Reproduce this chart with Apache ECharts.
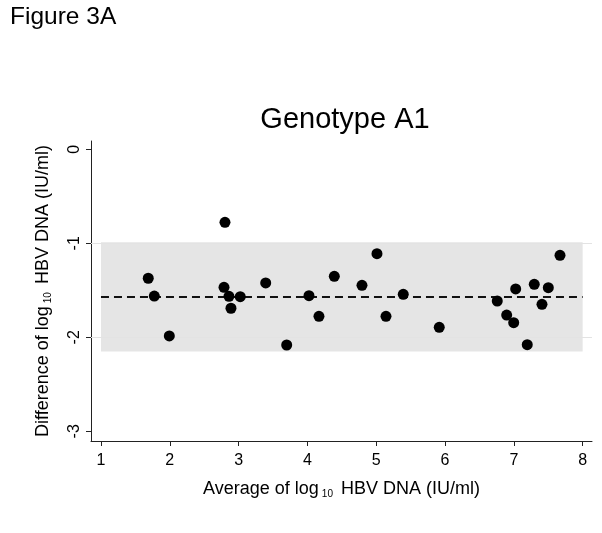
<!DOCTYPE html>
<html>
<head>
<meta charset="utf-8">
<script src="https://cdn.jsdelivr.net/npm/echarts@6/dist/echarts.min.js"></script>
<style>html,body{margin:0;padding:0;background:#fff}#c{width:602px;height:533px}</style>
</head>
<body>
<div id="c"></div>
<script>
// ---- data ----
const avgLog = [1.687,1.775,1.993,2.802,2.788,2.860,2.889,3.024,3.394,3.699,4.023,4.168,4.391,4.793,5.011,5.142,5.393,5.916,6.759,6.896,6.998,7.027,7.195,7.297,7.409,7.501,7.671];
const diffLog = [-1.372,-1.561,-1.986,-0.777,-1.468,-1.564,-1.691,-1.568,-1.422,-2.082,-1.557,-1.777,-1.351,-1.447,-1.111,-1.777,-1.543,-1.894,-1.614,-1.763,-1.845,-1.486,-2.079,-1.436,-1.649,-1.472,-1.128];
const meanDiff = -1.57;
const upperLoA = -0.99;
const lowerLoA = -2.15;
const bandX = [1, 8];
const xTicks = [1,2,3,4,5,6,7,8];
const yTicks = [0,-1,-2,-3];
const yGrid = [-1,-2];

const FONT = 'Liberation Sans, Arial, sans-serif';
const chart = echarts.init(document.getElementById('c'));
const pts = avgLog.map((x,i)=>[x, diffLog[i]]);

const nameRich = {
  a:{fontFamily:FONT, fontSize:18, color:'#000', verticalAlign:'middle'},
  s:{fontFamily:FONT, fontSize:10, color:'#000', verticalAlign:'middle', padding:[10,3,0,3]}
};

chart.setOption({
  backgroundColor:'#fff',
  animation:false,
  title:{
    text:'Genotype A1', left:340, top:100, textAlign:'center',
    textStyle:{fontFamily:FONT, fontSize:29, fontWeight:'normal', color:'#000'}
  },
  graphic:[{
    type:'text', left:10, top:5,
    style:{text:'Figure 3A', fontFamily:FONT, fontSize:24.5, fill:'#000'}
  }],
  grid:{left:91, right:10, top:141, bottom:92},
  xAxis:{
    type:'value', min:0.855, max:8.136,
    name:'{a|Average of log}{s|10}{a| HBV DNA (IU/ml)}',
    nameLocation:'middle', nameGap:38,
    nameTextStyle:{rich:nameRich},
    axisLine:{onZero:false, lineStyle:{color:'#222', width:1}},
    axisTick:{customValues:xTicks, length:5, lineStyle:{color:'#222'}},
    axisLabel:{customValues:xTicks, fontFamily:FONT, fontSize:16, color:'#000', margin:12},
    splitLine:{show:false}
  },
  yAxis:{
    type:'value', min:-3.103, max:0.088,
    name:'{a|Difference of log}{s|10}{a| HBV DNA (IU/ml)}',
    nameLocation:'middle', nameGap:38, nameRotate:90,
    nameTextStyle:{rich:nameRich},
    axisLine:{show:true, onZero:false, lineStyle:{color:'#222', width:1}},
    axisTick:{show:true, customValues:yTicks, length:5, lineStyle:{color:'#222'}},
    axisLabel:{customValues:yTicks, rotate:90, fontFamily:FONT, fontSize:16, color:'#000', margin:8},
    splitLine:{show:false}
  },
  series:[
    {
      type:'line', data:[], silent:true,
      markLine:{
        silent:true, symbol:'none', label:{show:false},
        lineStyle:{color:'#e3e3e3', width:1, type:'solid'},
        data: yGrid.map(v=>({yAxis:v}))
      },
      z:1
    },
    {
      type:'line', data:[], silent:true,
      markArea:{
        silent:true, itemStyle:{color:'#e5e5e5'},
        data:[[{coord:[bandX[0], upperLoA]},{coord:[bandX[1], lowerLoA]}]]
      },
      markLine:{
        silent:true, symbol:'none', label:{show:false},
        lineStyle:{color:'#111', width:1.8, type:[8,5]},
        data:[[{coord:[bandX[0], meanDiff]},{coord:[bandX[1], meanDiff]}]]
      },
      z:2
    },
    {
      type:'scatter', data:pts, symbol:'circle', symbolSize:11,
      itemStyle:{color:'#000', opacity:1}, z:5
    }
  ]
});
</script>
</body>
</html>
